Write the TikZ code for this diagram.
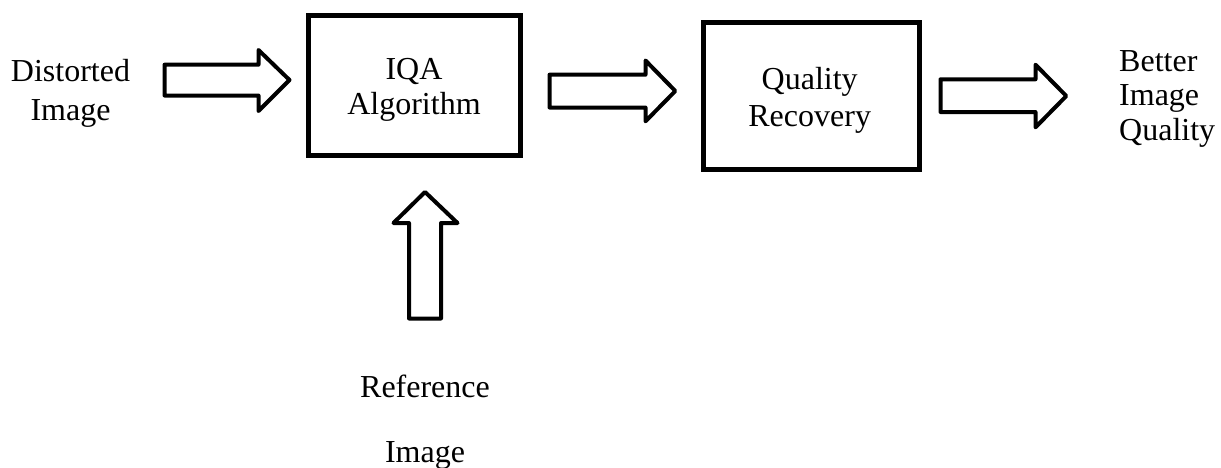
\documentclass[tikz,border=0pt]{standalone}
\usepackage{fontspec}
\setmainfont{Liberation Serif}
\begin{document}
\begin{tikzpicture}[x=1pt,y=-1pt,
  box/.style={draw=black,line width=5pt,rectangle,inner sep=0pt},
  fatarrow/.style={draw=black,line width=4pt,line join=round,fill=white},
  lbl/.style={align=center,inner sep=0pt,font=\fontsize{32}{35}\selectfont}]
\path[use as bounding box] (0,0) rectangle (1221,467);
% boxes
\node[box,minimum width=212pt,minimum height=139.5pt] (iqa) at (414,85.25) {};
\node[box,minimum width=216.5pt,minimum height=147.5pt] (qr) at (811.25,95.75) {};
% texts
\node[lbl] (iqat) at (414,90.2) {IQA\\Algorithm};
\node[lbl,font=\fontsize{32}{36.7}\selectfont] (qrt) at (809.7,100.2) {Quality\\Recovery};
\node[lbl,font=\fontsize{32}{38.3}\selectfont] (dist) at (70.5,93.4) {Distorted\\Image};
\node[lbl,align=left,anchor=west,font=\fontsize{32}{34.5}\selectfont] (better) at (1119,98.5) {Better\\Image\\Quality};
\node[lbl,font=\fontsize{32}{65}\selectfont] (ref) at (425,422) {Reference\\Image};
% block arrows
\draw[fatarrow] (164.5,64.7) -- (258.5,64.7) -- (258.5,50) -- (289.5,80) -- (258.5,111) -- (258.5,95.5) -- (164.5,95.5) -- cycle;
\draw[fatarrow] (549.5,74.7) -- (645.5,74.7) -- (645.5,60.5) -- (675.3,91) -- (645.5,121.3) -- (645.5,107.5) -- (549.5,107.5) -- cycle;
\draw[fatarrow] (940.5,79.3) -- (1035.5,79.3) -- (1035.5,64.7) -- (1066.3,96) -- (1035.5,127.3) -- (1035.5,112) -- (940.5,112) -- cycle;
\draw[fatarrow] (409,318.5) -- (409,223) -- (393.5,223) -- (425,192) -- (457.5,223) -- (441,223) -- (441,318.5) -- cycle;
\end{tikzpicture}
\end{document}
